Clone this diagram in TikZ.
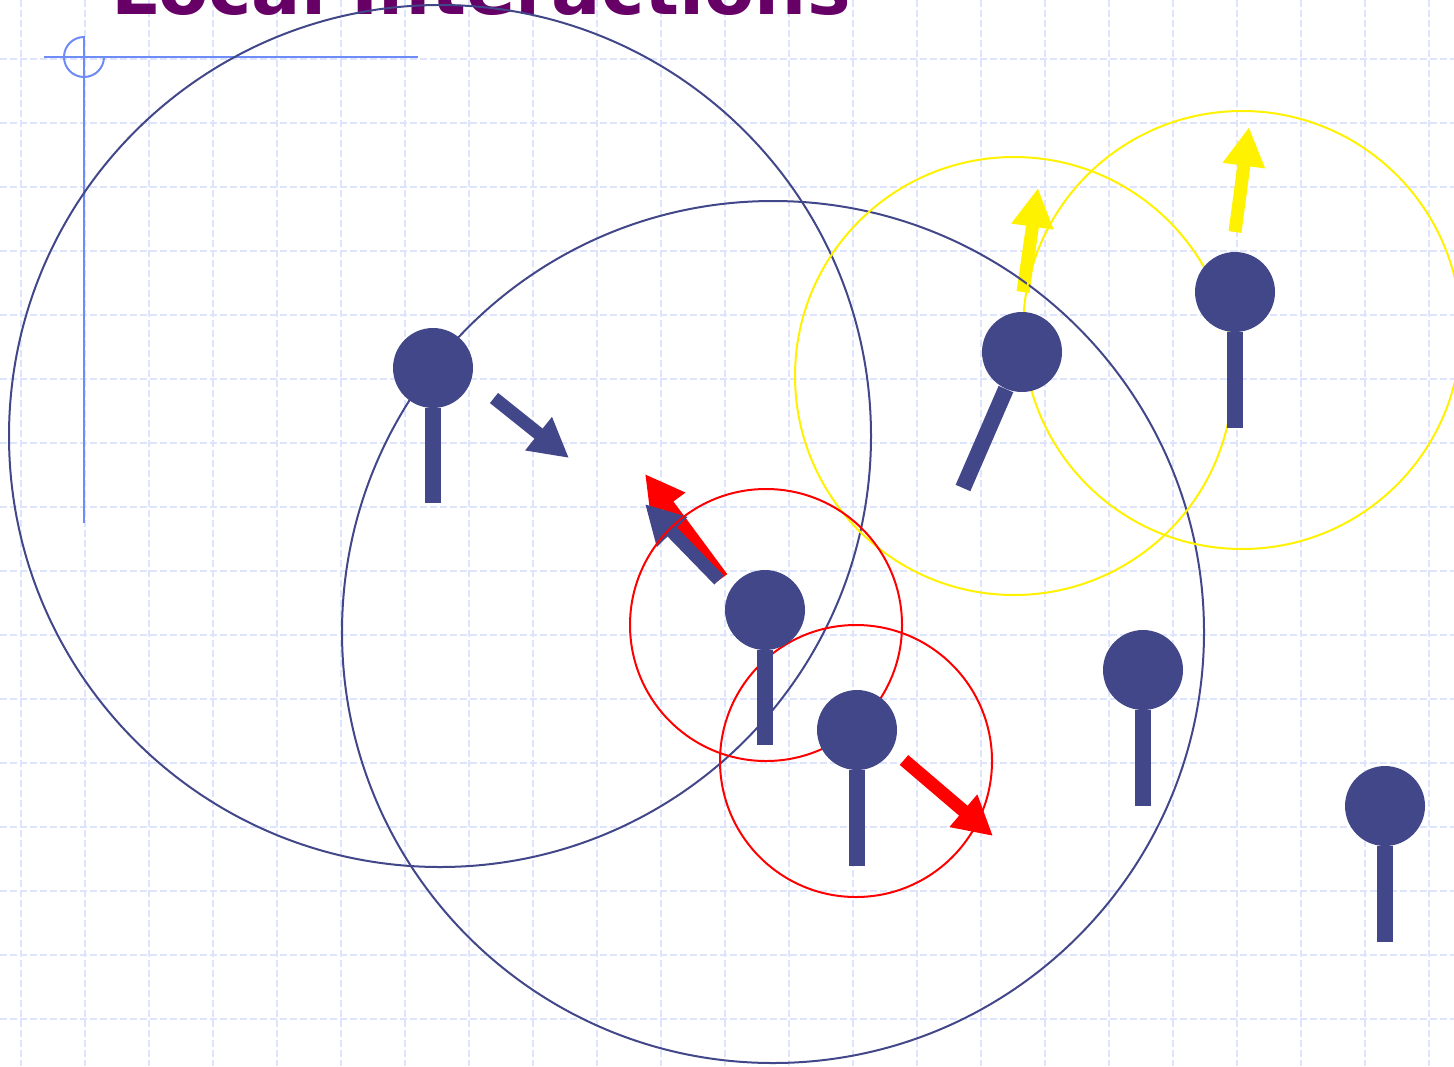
\documentclass[tikz,border=0pt]{standalone}
\usepackage{fontspec}
\newfontfamily\titlefont{DejaVu Sans}
\usepackage{tikz}
\usetikzlibrary{arrows.meta}
\definecolor{agentblue}{RGB}{66,71,138}
\definecolor{gridblue}{RGB}{222,228,252}
\definecolor{crossblue}{RGB}{110,140,245}
\definecolor{titlepurple}{RGB}{102,0,102}

\begin{document}
\begin{tikzpicture}[
    x=0.5pt, y=-0.5pt,
    gridline/.style={gridblue, line width=0.75pt, dash pattern=on 3.5pt off 1.5pt},
    cross/.style={crossblue, line width=1pt},
    nbhood/.style={line width=1pt},
    head/.style={circle, fill=agentblue, minimum size=40pt, inner sep=0pt},
    stick/.style={agentblue, line width=8pt},
    vel/.style={line width=6.5pt, -{Triangle[length=19.5pt, width=20pt]}},
]
\useasboundingbox (0,0) rectangle (1454,1066);

% background grid
\foreach \gx in {0,...,22}
  \draw[gridline] (21+64*\gx,0) -- (21+64*\gx,1066);
\foreach \gy in {-1,...,15}
  \draw[gridline] (0,59+64*\gy) -- (1454,59+64*\gy);

% corner cross
\draw[cross] (44,57) -- (418,57);
\draw[cross] (84,36) -- (84,523);
\draw[cross] (84,37) arc[start angle=270, end angle=0, radius=20];

\node[anchor=base west, inner sep=0pt, text=titlepurple,
      font=\titlefont\bfseries\fontsize{36.6}{44}\selectfont] (title) at (111,14) {Local Interactions};

% velocity arrows
\coordinate (v1s) at (494,398);  \coordinate (v1t) at (569,458);
\coordinate (v2s) at (722,578);  \coordinate (v2t) at (645,474);
\coordinate (v3s) at (719,580);  \coordinate (v3t) at (645,504);
\coordinate (v4s) at (904,760);  \coordinate (v4t) at (993,836);
\coordinate (v5s) at (1023,292); \coordinate (v5t) at (1038,188);
\coordinate (v6s) at (1235,232); \coordinate (v6t) at (1249,127);

\draw[vel, agentblue] (v1s) -- (v1t);
\draw[vel, red]       (v2s) -- (v2t);
\draw[vel, agentblue] (v3s) -- (v3t);
\draw[vel, red]       (v4s) -- (v4t);
\draw[vel, yellow]    (v5s) -- (v5t);
\draw[vel, yellow]    (v6s) -- (v6t);

% neighbourhoods
\draw[nbhood, agentblue] (440,436) circle[radius=431];
\draw[nbhood, agentblue] (773,632) circle[radius=431];
\draw[nbhood, yellow]    (1014,376) circle[radius=219];
\draw[nbhood, yellow]    (1242,330) circle[radius=219];
\draw[nbhood, red]       (766,625) circle[radius=136];
\draw[nbhood, red]       (856,761) circle[radius=136];

% agents
\node[head] (ag1) at (433,368) {};
\node[head] (ag2) at (765,610) {};
\node[head] (ag3) at (857,730) {};
\node[head] (ag4) at (1143,670) {};
\node[head] (ag5) at (1385,806) {};
\node[head] (ag6) at (1235,292) {};
\node[head] (ag7) at (1022,352) {};

\coordinate (ag1b) at (433,503);
\coordinate (ag2b) at (765,745);
\coordinate (ag3b) at (857,866);
\coordinate (ag4b) at (1143,806);
\coordinate (ag5b) at (1385,942);
\coordinate (ag6b) at (1235,428);
\coordinate (ag7b) at (963,488);

\draw[stick] (ag1) -- (ag1b);
\draw[stick] (ag2) -- (ag2b);
\draw[stick] (ag3) -- (ag3b);
\draw[stick] (ag4) -- (ag4b);
\draw[stick] (ag5) -- (ag5b);
\draw[stick] (ag6) -- (ag6b);
\draw[stick] (ag7) -- (ag7b);

\end{tikzpicture}
\end{document}
